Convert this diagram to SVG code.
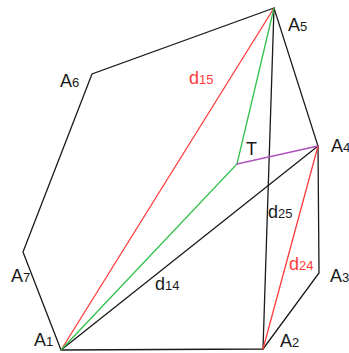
<svg xmlns="http://www.w3.org/2000/svg" width="349" height="353" viewBox="0 0 349 353">
<style>
.e{fill:none;stroke-width:1.3;stroke-linecap:round}
.k{stroke:#1a1a1a}.r{stroke:#ff3b3b}.g{stroke:#2fc04a}.p{stroke:#b050c0}
text{font-family:"Liberation Sans","DejaVu Sans",sans-serif;font-size:18px;fill:#1a1a1a}
.s{font-size:13px}
.rt{fill:#ff3b3b}
</style>
<rect width="349" height="353" fill="#fff"/>
<g id="connectors">
<path class="e k" d="M61,350 L23,252 L92,74 L274,8 L318,146 L319,273 L263,349 Z"/>
<path class="e k" d="M274,8 L263,349"/>
<path class="e k" d="M61,350 L318,146"/>
<path class="e r" d="M61,350 L274,8"/>
<path class="e r" d="M263,349 L318,146"/>
<path class="e g" d="M61,350 L237,164 L274,8"/>
<path class="e p" d="M237,164 L318,146"/>
</g>
<g id="A1"><text x="34" y="346">A<tspan class="s">1</tspan></text></g>
<g id="A2"><text x="280" y="347">A<tspan class="s">2</tspan></text></g>
<g id="A3"><text x="330" y="282">A<tspan class="s">3</tspan></text></g>
<g id="A4"><text x="331" y="152">A<tspan class="s">4</tspan></text></g>
<g id="A5"><text x="288" y="31">A<tspan class="s">5</tspan></text></g>
<g id="A6"><text x="60" y="87">A<tspan class="s">6</tspan></text></g>
<g id="A7"><text x="11" y="282">A<tspan class="s">7</tspan></text></g>
<g id="T"><text x="246" y="155">T</text></g>
<g id="d15"><text class="rt" x="189" y="84">d<tspan class="s">15</tspan></text></g>
<g id="d14"><text x="155" y="290">d<tspan class="s">14</tspan></text></g>
<g id="d25"><text x="268" y="218">d<tspan class="s">25</tspan></text></g>
<g id="d24"><text class="rt" x="289" y="270">d<tspan class="s">24</tspan></text></g>
</svg>
